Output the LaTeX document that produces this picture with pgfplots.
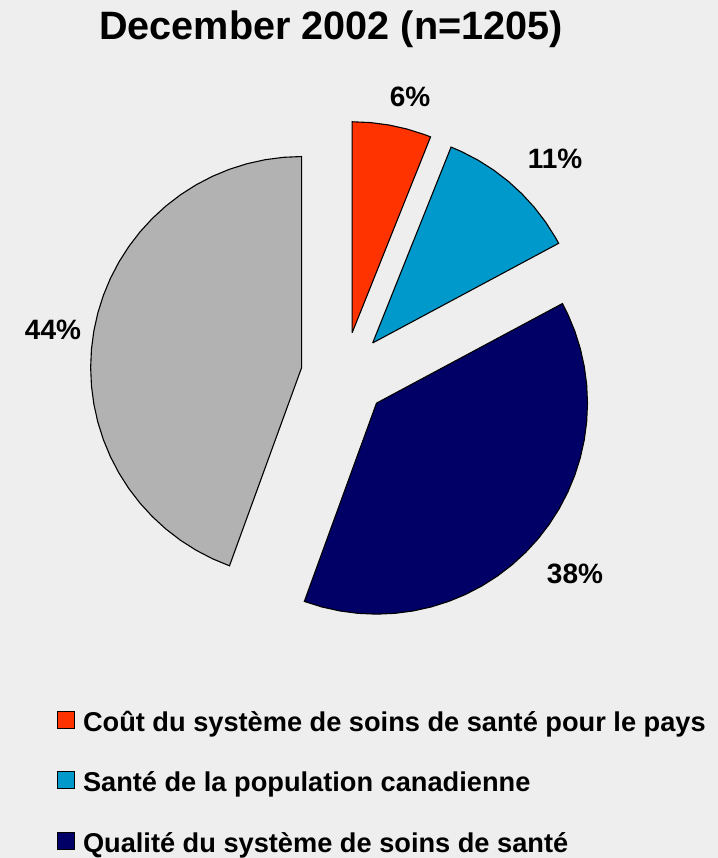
\documentclass[border=0pt]{standalone}
\usepackage{pgfplots}
\pgfplotsset{compat=1.18}
\usepgfplotslibrary{polar}
\usepackage{fontspec}
\setmainfont{Liberation Sans}
\definecolor{bgc}{HTML}{EEEEEE}
\definecolor{orangec}{HTML}{FF3300}
\definecolor{bluec}{HTML}{0099CC}
\definecolor{navyc}{HTML}{000066}
\definecolor{grayc}{HTML}{B2B2B2}
\begin{document}
\begin{tikzpicture}
\fill[bgc] (0,0) rectangle (359pt,429pt);
\begin{axis}[
  at={(0,0)}, anchor=south west,
  scale only axis, width=359pt, height=429pt,
  xmin=-344, xmax=374, ymin=-483, ymax=375,
  hide axis, clip=false,
  legend style={at={(axis cs:-287,-336)}, anchor=north west, draw=none, fill=none,
    inner sep=0pt, outer sep=0pt, row sep=17pt, column sep=4pt,
    font=\fontsize{13.6}{16}\selectfont\bfseries,
    nodes={inner sep=0pt, text height=10pt, text depth=3pt},
    cells={anchor=west}},
  legend image code/.code={\draw[#1, line width=0.5pt] (0pt,-2pt) rectangle (8.5pt,6.5pt);},
]
% slices: values 6, 11, 38, 44 (%), angles clockwise from 90 deg
\addplot[forget plot, data cs=polar, fill=orangec, draw=black, line width=0.55pt, shift={(79.09:21.5pt)}]
  coordinates {(0,0) (90,211) (85,211) (80,211) (75,211) (70,211) (68.18,211) (0,0)};
\addplot[forget plot, data cs=polar, fill=bluec, draw=black, line width=0.55pt, shift={(48.18:21.5pt)}]
  coordinates {(0,0) (68.18,211) (65,211) (60,211) (55,211) (50,211) (45,211) (40,211) (35,211) (30,211) (28.18,211) (0,0)};
\addplot[forget plot, data cs=polar, fill=navyc, draw=black, line width=0.55pt, shift={(-40.91:21.5pt)}]
  coordinates {(0,0) (28.18,211) (25,211) (20,211) (15,211) (10,211) (5,211) (0,211) (-5,211) (-10,211) (-15,211) (-20,211) (-25,211) (-30,211) (-35,211) (-40,211) (-45,211) (-50,211) (-55,211) (-60,211) (-65,211) (-70,211) (-75,211) (-80,211) (-85,211) (-90,211) (-95,211) (-100,211) (-105,211) (-110,211) (0,0)};
\addplot[forget plot, data cs=polar, fill=grayc, draw=black, line width=0.55pt, shift={(170:21.5pt)}]
  coordinates {(0,0) (-110,211) (-115,211) (-120,211) (-125,211) (-130,211) (-135,211) (-140,211) (-145,211) (-150,211) (-155,211) (-160,211) (-165,211) (-170,211) (-175,211) (-180,211) (-185,211) (-190,211) (-195,211) (-200,211) (-205,211) (-210,211) (-215,211) (-220,211) (-225,211) (-230,211) (-235,211) (-240,211) (-245,211) (-250,211) (-255,211) (-260,211) (-265,211) (-270,211) (0,0)};
\addlegendimage{fill=orangec, draw=black}
\addlegendentry{Coût du système de soins de santé pour le pays}
\addlegendimage{fill=bluec, draw=black}
\addlegendentry{Santé de la population canadienne}
\addlegendimage{fill=navyc, draw=black}
\addlegendentry{Qualité du système de soins de santé}
\node[font=\fontsize{14}{16}\selectfont\bfseries] at (axis cs:66,278) {6\%};
\node[font=\fontsize{14}{16}\selectfont\bfseries] at (axis cs:211,216) {11\%};
\node[font=\fontsize{14}{16}\selectfont\bfseries] at (axis cs:231,-199) {38\%};
\node[font=\fontsize{14}{16}\selectfont\bfseries] at (axis cs:-291,45) {44\%};
\node[anchor=base, font=\fontsize{19.8}{22}\selectfont\bfseries] at (axis cs:-13,335) {December 2002 (n=1205)};
\end{axis}
\pgfresetboundingbox
\path[use as bounding box] (0,0) rectangle (359pt,429pt);
\end{tikzpicture}
\end{document}
